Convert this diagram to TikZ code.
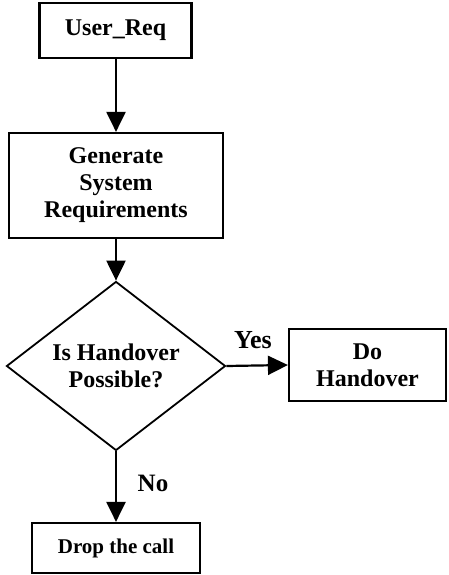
\documentclass[tikz,border=0pt]{standalone}
\usepackage{fontspec}
\setmainfont{Liberation Serif}
\usetikzlibrary{shapes.geometric,arrows.meta}
\begin{document}
\begin{tikzpicture}[x=1pt,y=-1pt,
  box/.style={draw,line width=2.2pt,rectangle,inner sep=0pt,align=center,
    font=\fontsize{24}{27}\selectfont\bfseries},
  decision/.style={draw,line width=1.8pt,diamond,aspect=1.3,inner sep=0pt,
    minimum width=219pt,minimum height=169pt,align=center,
    font=\fontsize{24}{27}\selectfont\bfseries},
  flow/.style={line width=2.2pt,-{Triangle[length=20pt,width=19pt]}},
  lbl/.style={font=\fontsize{26}{28}\selectfont\bfseries,inner sep=0pt}]
\useasboundingbox (0,0) rectangle (448,575);
\node[box,minimum width=152pt,minimum height=55pt] (user) at (115.5,30.5) {User\_Req};
\node[box,minimum width=214pt,minimum height=105pt] (gen) at (116,185.5) {Generate\\System\\Requirements};
\node[decision] (dec) at (116,366) {Is Handover\\Possible?};
\node[box,minimum width=157pt,minimum height=72pt] (do) at (367.5,365) {Do\\Handover};
\node[box,minimum width=168pt,minimum height=50pt,font=\fontsize{21}{24}\selectfont\bfseries] (drop) at (116,548) {Drop the call};
\draw[flow] (user.south -| gen.north) -- (gen.north);
\draw[flow] (gen.south) -- (dec.north);
\draw[flow] (dec.east) -- (do.west);
\draw[flow] (dec.south) -- (drop.north);
\node[lbl] (yes) at (253,340) {Yes};
\node[lbl,font=\fontsize{25}{28}\selectfont\bfseries] (no) at (153,483) {No};
\end{tikzpicture}
\end{document}
